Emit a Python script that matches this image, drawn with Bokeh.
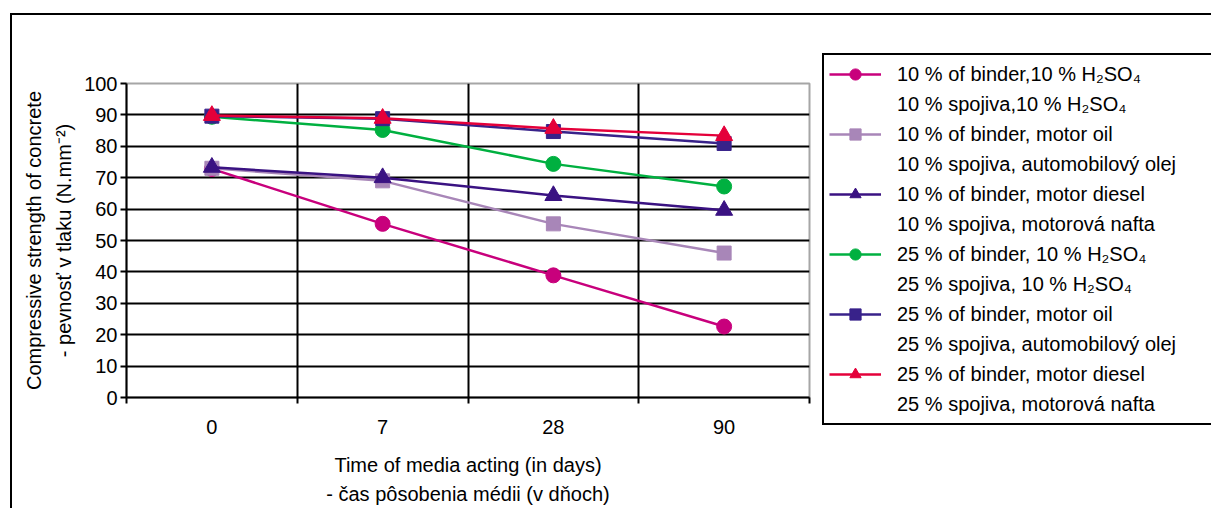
from bokeh.plotting import figure
from bokeh.models import Range1d, FixedTicker, Legend, LegendItem
from bokeh.embed import file_html
from bokeh.resources import INLINE

categories = ["0", "7", "28", "90"]
s_10_h2so4 = [72.8, 55.3, 38.9, 22.6]
s_10_oil = [73.0, 69.0, 55.3, 46.0]
s_10_diesel = [73.3, 70.0, 64.3, 59.6]
s_25_h2so4 = [89.4, 85.2, 74.4, 67.2]
s_25_oil = [89.6, 88.8, 84.7, 80.9]
s_25_diesel = [89.8, 88.9, 85.7, 83.4]

labels_en = [
    "10 % of binder,10 % H\u2082SO\u2084",
    "10 % of binder, motor oil",
    "10 % of binder, motor diesel",
    "25 % of binder, 10 % H\u2082SO\u2084",
    "25 % of binder, motor oil",
    "25 % of binder, motor diesel",
]
labels_sk = [
    "10 % spojiva,10 % H\u2082SO\u2084",
    "10 % spojiva, automobilový olej",
    "10 % spojiva, motorová nafta",
    "25 % spojiva, 10 % H\u2082SO\u2084",
    "25 % spojiva, automobilový olej",
    "25 % spojiva, motorová nafta",
]
series = [s_10_h2so4, s_10_oil, s_10_diesel, s_25_h2so4, s_25_oil, s_25_diesel]
colors = ["#C8007C", "#A886B8", "#3A1282", "#00B040", "#38228A", "#E4003A"]
markers = ["circle", "square", "triangle", "circle", "square", "triangle"]
sizes = [15, 14, 17, 15, 14, 17]

FONT = "Liberation Sans"

xs = [i + 0.5 for i in range(len(categories))]

p = figure(frame_width=683, frame_height=314, output_backend="svg", toolbar_location=None,
           x_range=Range1d(0, len(categories)), y_range=Range1d(0, 100),
           min_border_left=114, min_border_right=0, min_border_top=68, min_border_bottom=101)
p.margin = (13, 0, 0, 10)
p.styles = {"border-left": "2px solid black", "border-top": "2px solid black"}
p.background_fill_color = "white"
p.border_fill_color = "white"
p.outline_line_color = "#A6A6A6"
p.outline_line_width = 2

xax = p.xaxis[0]
xax.ticker = FixedTicker(ticks=xs, minor_ticks=list(range(len(categories) + 1)))
xax.major_label_overrides = {x: c for x, c in zip(xs, categories)}
xax.major_tick_line_color = None
xax.major_tick_out = 0
xax.major_tick_in = 0
xax.minor_tick_line_color = "black"
xax.minor_tick_line_width = 2
xax.minor_tick_out = 6
xax.minor_tick_in = 0
xax.major_label_standoff = 16
xax.axis_line_color = "black"
xax.axis_line_width = 2
xax.axis_label = "Time of media acting (in days)\n- čas pôsobenia médii (v dňoch)"
xax.axis_label_text_font = FONT
xax.axis_label_text_font_size = "20px"
xax.axis_label_text_font_style = "normal"
xax.axis_label_text_color = "black"
xax.axis_label_text_line_height = 1.35
xax.axis_label_standoff = 17
xax.major_label_text_font = FONT
xax.major_label_text_font_size = "20px"
xax.major_label_text_color = "black"

yax = p.yaxis[0]
yax.ticker = FixedTicker(ticks=list(range(0, 101, 10)))
yax.minor_tick_line_color = None
yax.major_tick_out = 6
yax.major_tick_in = 0
yax.major_tick_line_width = 2
yax.major_label_standoff = 3
yax.axis_line_color = "black"
yax.axis_line_width = 2
yax.axis_label = "Compressive strength of concrete\n- pevnosť v tlaku (N.mm\u207B\u00B2)"
yax.axis_label_text_font = FONT
yax.axis_label_text_font_size = "20px"
yax.axis_label_text_font_style = "normal"
yax.axis_label_text_color = "black"
yax.axis_label_text_line_height = 1.37
yax.axis_label_standoff = 6
yax.major_label_text_font = FONT
yax.major_label_text_font_size = "20px"
yax.major_label_text_color = "black"

p.xgrid.ticker = FixedTicker(ticks=list(range(1, len(categories))))
p.xgrid.grid_line_color = "black"
p.xgrid.grid_line_width = 2
p.ygrid.ticker = FixedTicker(ticks=list(range(10, 100, 10)))
p.ygrid.grid_line_color = "black"
p.ygrid.grid_line_width = 2

items = []
for ys, col, mk, sz, en, sk in zip(series, colors, markers, sizes, labels_en, labels_sk):
    lr = p.line(xs, ys, line_color=col, line_width=2.5)
    sr = p.scatter(xs, ys, marker=mk, size=sz, fill_color=col, line_color=col)
    items.append(LegendItem(label=en, renderers=[lr, sr]))
    items.append(LegendItem(label=sk, renderers=[]))

legend = Legend(items=items, location=(13, -28))
legend.label_text_font = FONT
legend.label_text_font_size = "20px"
legend.label_text_color = "black"
legend.glyph_width = 52
legend.glyph_height = 28
legend.label_height = 28
legend.label_standoff = 16
legend.padding = 5
legend.spacing = 2
legend.margin = 0
legend.label_width = 312
legend.border_line_color = "black"
legend.border_line_alpha = 1.0
legend.border_line_width = 2
legend.background_fill_color = "white"
legend.background_fill_alpha = 1
p.add_layout(legend, "right")

open("out.html", "w").write(file_html(p, INLINE))
